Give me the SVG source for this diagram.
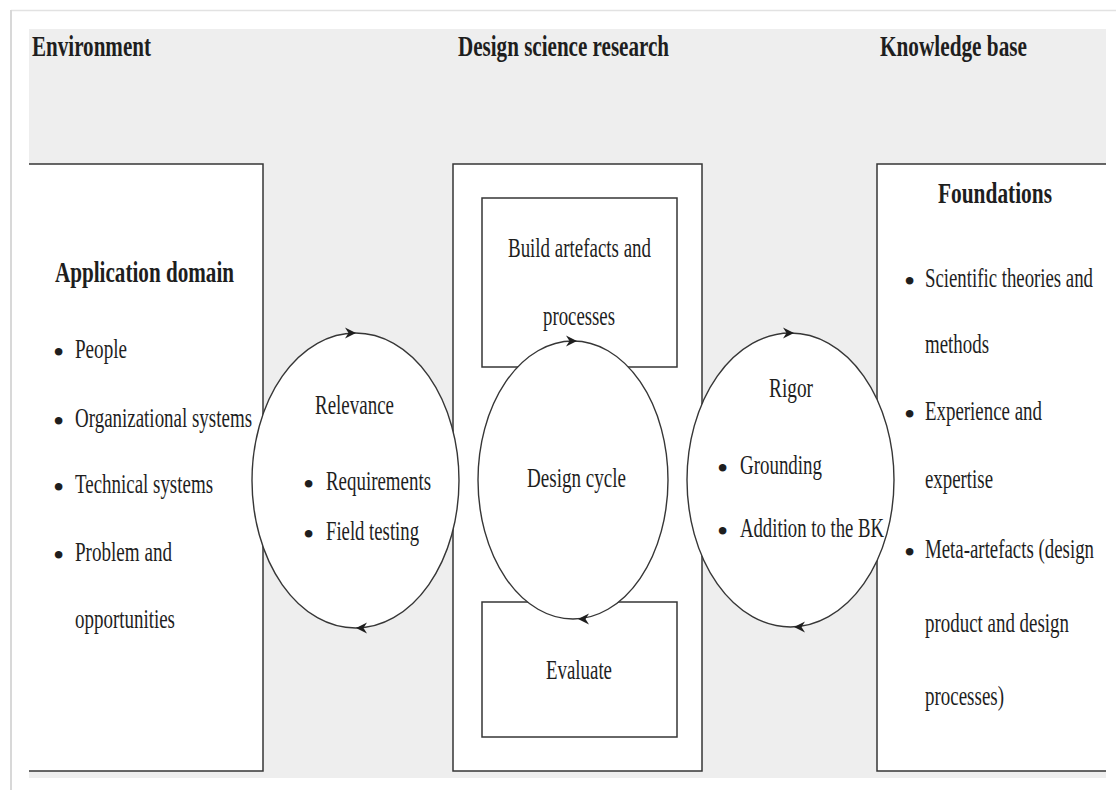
<svg xmlns="http://www.w3.org/2000/svg" width="1116" height="790" viewBox="0 0 1116 790">
  <style>
    .frame { fill: #ffffff; stroke: #363636; stroke-width: 1.5; }
    .fill { fill: #ffffff; stroke: none; }
    .edge { fill: none; stroke: #363636; stroke-width: 1.5; }
    .cycle { fill: #ffffff; stroke: #363636; stroke-width: 1.4; }
    .head { fill: #1e1e1e; stroke: none; }
    text { font-family: "Liberation Serif", "Times New Roman", serif; fill: #1e1e1e; }
    .title { font-size: 30px; font-weight: bold; }
    .body { font-size: 27px; }
    .dot { font-size: 32px; }
  </style>
  <defs>
    <path id="arrowhead" class="head" d="M1,0 L-10,-5.5 L-6.5,0 L-10,5.5 Z"/>
  </defs>

  <!-- page and shaded canvas -->
  <rect x="0" y="0" width="1116" height="790" fill="#ffffff"/>
  <line x1="11" y1="10.5" x2="1116" y2="10.5" stroke="#e2e2e2" stroke-width="1.5"/>
  <line x1="11" y1="10" x2="11" y2="790" stroke="#d8d8d8" stroke-width="2"/>
  <rect x="29" y="29" width="1077" height="749" fill="#eeeeee"/>

  <!-- column headings -->
  <g id="headings">
    <text class="title" x="32" y="56" textLength="119" lengthAdjust="spacingAndGlyphs">Environment</text>
    <text class="title" x="458" y="56" textLength="211" lengthAdjust="spacingAndGlyphs">Design science research</text>
    <text class="title" x="880" y="56" textLength="147" lengthAdjust="spacingAndGlyphs">Knowledge base</text>
  </g>

  <!-- environment column -->
  <g id="application-domain">
    <rect class="fill" x="29" y="164" width="234" height="607"/>
    <path class="edge" d="M29,164 H263 V771 H29"/>
    <text class="title" x="55" y="282" textLength="179" lengthAdjust="spacingAndGlyphs">Application domain</text>
    <text class="dot" x="53" y="363">•</text>
    <text class="body" x="75" y="358" textLength="52" lengthAdjust="spacingAndGlyphs">People</text>
    <text class="dot" x="53" y="432">•</text>
    <text class="body" x="75" y="427" textLength="177" lengthAdjust="spacingAndGlyphs">Organizational systems</text>
    <text class="dot" x="53" y="498">•</text>
    <text class="body" x="75" y="493" textLength="138" lengthAdjust="spacingAndGlyphs">Technical systems</text>
    <text class="dot" x="53" y="566">•</text>
    <text class="body" x="75" y="561" textLength="97" lengthAdjust="spacingAndGlyphs">Problem and</text>
    <text class="body" x="75" y="628" textLength="100" lengthAdjust="spacingAndGlyphs">opportunities</text>
  </g>

  <!-- design science research column -->
  <g id="dsr-column">
    <rect class="frame" x="453" y="164" width="249" height="607"/>
  </g>
  <g id="build">
    <rect class="frame" x="482" y="198" width="195" height="169"/>
    <text class="body" x="508" y="257" textLength="143" lengthAdjust="spacingAndGlyphs">Build artefacts and</text>
    <text class="body" x="543" y="325" textLength="72" lengthAdjust="spacingAndGlyphs">processes</text>
  </g>
  <g id="evaluate">
    <rect class="frame" x="482" y="602" width="195" height="135"/>
    <text class="body" x="546" y="679" textLength="66" lengthAdjust="spacingAndGlyphs">Evaluate</text>
  </g>

  <!-- knowledge base column -->
  <g id="foundations">
    <rect class="fill" x="877" y="164" width="229" height="607"/>
    <path class="edge" d="M1106,164 H877 V771 H1106"/>
    <text class="title" x="938" y="203" textLength="114" lengthAdjust="spacingAndGlyphs">Foundations</text>
    <text class="dot" x="904" y="292">•</text>
    <text class="body" x="925" y="287" textLength="168" lengthAdjust="spacingAndGlyphs">Scientific theories and</text>
    <text class="body" x="925" y="353" textLength="64" lengthAdjust="spacingAndGlyphs">methods</text>
    <text class="dot" x="904" y="425">•</text>
    <text class="body" x="925" y="420" textLength="117" lengthAdjust="spacingAndGlyphs">Experience and</text>
    <text class="body" x="925" y="488" textLength="68" lengthAdjust="spacingAndGlyphs">expertise</text>
    <text class="dot" x="904" y="563">•</text>
    <text class="body" x="925" y="558" textLength="169" lengthAdjust="spacingAndGlyphs">Meta-artefacts (design</text>
    <text class="body" x="925" y="632" textLength="144" lengthAdjust="spacingAndGlyphs">product and design</text>
    <text class="body" x="925" y="705" textLength="79" lengthAdjust="spacingAndGlyphs">processes)</text>
  </g>

  <!-- the three cycles: clockwise loops -->
  <g id="connectors">
    <ellipse class="cycle" cx="355.5" cy="480.5" rx="103.5" ry="147.5"/>
    <use href="#arrowhead" transform="translate(355,333)"/>
    <use href="#arrowhead" transform="translate(357,628) rotate(180)"/>

    <ellipse class="cycle" cx="573" cy="480" rx="95" ry="139"/>
    <use href="#arrowhead" transform="translate(576,341)"/>
    <use href="#arrowhead" transform="translate(579,619) rotate(180)"/>

    <ellipse class="cycle" cx="790.5" cy="480" rx="103.5" ry="147"/>
    <use href="#arrowhead" transform="translate(793,333)"/>
    <use href="#arrowhead" transform="translate(795,627) rotate(180)"/>
  </g>

  <g id="relevance-cycle">
    <text class="body" x="315" y="414" textLength="79" lengthAdjust="spacingAndGlyphs">Relevance</text>
    <text class="dot" x="303" y="495">•</text>
    <text class="body" x="326" y="490" textLength="105" lengthAdjust="spacingAndGlyphs">Requirements</text>
    <text class="dot" x="303" y="545">•</text>
    <text class="body" x="326" y="540" textLength="93" lengthAdjust="spacingAndGlyphs">Field testing</text>
  </g>

  <g id="design-cycle">
    <text class="body" x="527" y="487" textLength="99" lengthAdjust="spacingAndGlyphs">Design cycle</text>
  </g>

  <g id="rigor-cycle">
    <text class="body" x="769" y="397" textLength="44" lengthAdjust="spacingAndGlyphs">Rigor</text>
    <text class="dot" x="717" y="479">•</text>
    <text class="body" x="740" y="474" textLength="82" lengthAdjust="spacingAndGlyphs">Grounding</text>
    <text class="dot" x="717" y="542">•</text>
    <text class="body" x="740" y="537" textLength="144" lengthAdjust="spacingAndGlyphs">Addition to the BK</text>
  </g>
</svg>
